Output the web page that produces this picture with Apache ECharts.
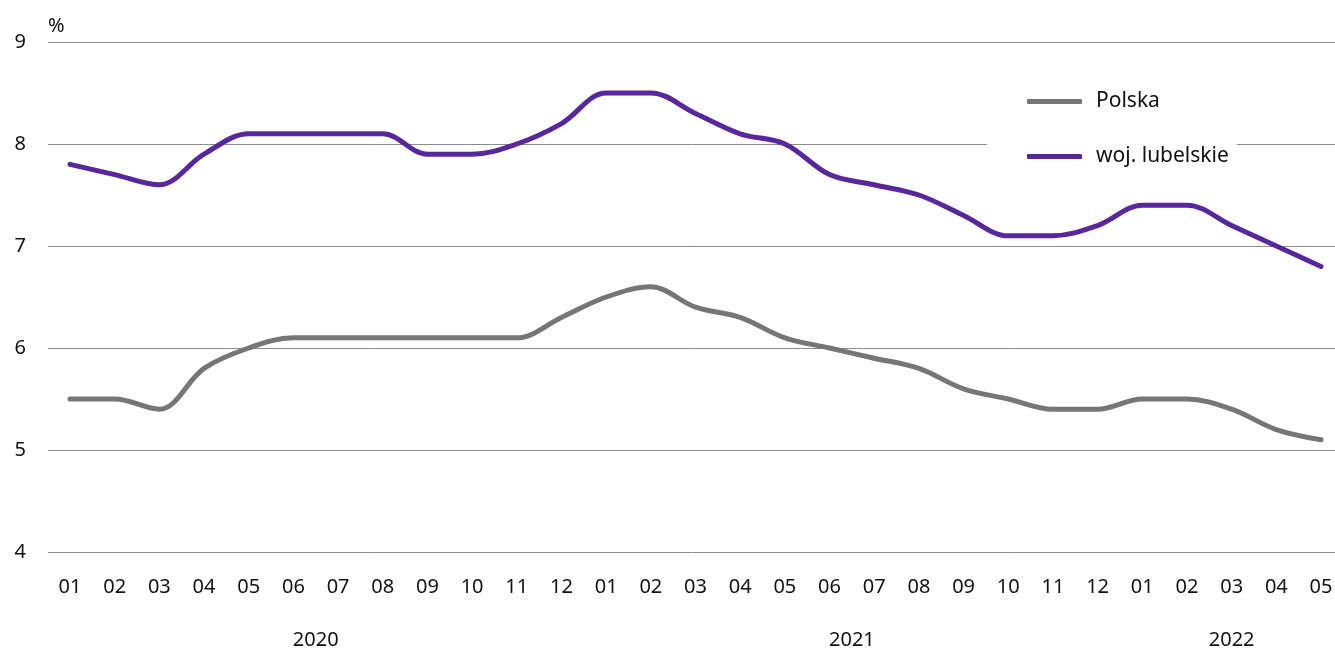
<!DOCTYPE html>
<html><head><meta charset="utf-8">
<script src="https://cdn.jsdelivr.net/npm/echarts@6/dist/echarts.min.js"></script>
<style>html,body{margin:0;padding:0;background:#fff}#c{width:1335px;height:648px}</style>
</head><body><div id="c"></div>
<script>
const months = ['01','02','03','04','05','06','07','08','09','10','11','12',
                '01','02','03','04','05','06','07','08','09','10','11','12',
                '01','02','03','04','05'];
const yearLabels = [[5.5,'2020'],[17.5,'2021'],[26,'2022']];
const polska = [5.5,5.5,5.4,5.8,6.0,6.1,6.1,6.1,6.1,6.1,6.1,6.3,
                6.5,6.6,6.4,6.3,6.1,6.0,5.9,5.8,5.6,5.5,5.4,5.4,
                5.5,5.5,5.4,5.2,5.1];
const lubelskie = [7.8,7.7,7.6,7.9,8.1,8.1,8.1,8.1,7.9,7.9,8.0,8.2,
                   8.5,8.5,8.3,8.1,8.0,7.7,7.6,7.5,7.3,7.1,7.1,7.2,
                   7.4,7.4,7.2,7.0,6.8];
const yTicks = [4,5,6,7,8,9];

const font = "'Noto Sans', sans-serif";
const chart = echarts.init(document.getElementById('c'));
chart.setOption({
  animation:false,
  textStyle:{fontFamily:font},
  grid:[
    {left:70,right:14,top:42,bottom:96,containLabel:false,outerBoundsMode:'none'},
    {left:48,right:0,top:42,bottom:96,containLabel:false,outerBoundsMode:'none'}
  ],
  legend:{
    orient:'vertical', left:987, top:85, padding:[6,8,6,40],
    backgroundColor:'#fff', itemWidth:55, itemHeight:5, itemGap:34,
    icon:'roundRect',
    textStyle:{fontFamily:font,fontSize:21,color:'#111',padding:[0,0,0,9]},
    data:['Polska','woj. lubelskie']
  },
  xAxis:[
    {type:'category',gridIndex:0,data:months,boundaryGap:false,
     axisLine:{show:false},axisTick:{show:false},
     axisLabel:{fontSize:20,color:'#111',margin:25,interval:0,fontFamily:font}},
    {type:'value',gridIndex:0,min:0,max:28,interval:0.5,position:'bottom',
     axisLine:{show:false},axisTick:{show:false},splitLine:{show:false},
     axisLabel:{fontSize:20,color:'#111',margin:78,fontFamily:font,showMinLabel:true,showMaxLabel:true,
       formatter:function(v){for(const y of yearLabels){if(Math.abs(y[0]-v)<1e-6)return y[1];}return '';}}},
    {type:'value',gridIndex:1,min:0,max:1,show:false}
  ],
  yAxis:[
    {type:'value',gridIndex:0,min:4,max:9,interval:1,show:false,splitLine:{show:false}},
    {type:'value',gridIndex:1,min:yTicks[0],max:yTicks[yTicks.length-1],interval:1,
     name:'%',nameLocation:'end',nameGap:6,
     nameTextStyle:{fontSize:20,color:'#111',align:'left',fontFamily:font},
     axisLine:{show:false},axisTick:{show:false},
     axisLabel:{fontSize:20,color:'#111',margin:22,fontFamily:font},
     splitLine:{lineStyle:{color:'#8c8c8c',width:1}}}
  ],
  series:[
    {name:'Polska',type:'line',xAxisIndex:0,yAxisIndex:0,data:polska,smooth:0.35,
     showSymbol:false,symbol:'none',color:'#767676',
     lineStyle:{width:5,color:'#767676',cap:'round'}},
    {name:'woj. lubelskie',type:'line',xAxisIndex:0,yAxisIndex:0,data:lubelskie,smooth:0.35,
     showSymbol:false,symbol:'none',color:'#57279b',
     lineStyle:{width:5,color:'#57279b',cap:'round'}}
  ]
});
</script></body></html>
